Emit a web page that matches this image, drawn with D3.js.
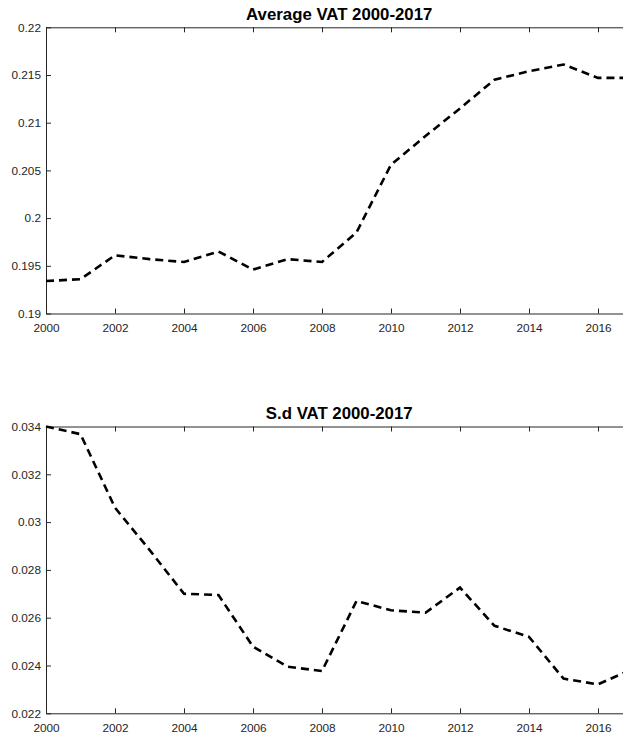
<!DOCTYPE html>
<html>
<head>
<style>
  body, html { margin: 0; padding: 0; background: #fff; }
  svg { display: block; }
</style>
</head>
<body>
<svg id="svg" width="623" height="734"></svg>
<script src="https://d3js.org/d3.v7.min.js"></script>
<script>
  const years = d3.range(2000, 2018)
  const avgVat = [0.1934, 0.1936, 0.1961, 0.1957, 0.1954, 0.1965, 0.1946, 0.1957, 0.1954,
    0.1985, 0.2056, 0.2086, 0.2115, 0.2145, 0.2154, 0.2161, 0.2147, 0.2147]
  const sdVat = [0.0340, 0.03368, 0.0306, 0.02884, 0.02700, 0.02695, 0.02479, 0.02395, 0.02377,
    0.02670, 0.02631, 0.02621, 0.02726, 0.02566, 0.02520, 0.02345, 0.02321, 0.02385]
  const xTicks = [2000, 2002, 2004, 2006, 2008, 2010, 2012, 2014, 2016]
  const avgTicks = [0.19, 0.195, 0.2, 0.205, 0.21, 0.215, 0.22]
  const sdTicks = [0.022, 0.024, 0.026, 0.028, 0.03, 0.032, 0.034]

  const svg = d3.select('#svg')
  const left = 46
  const right = 632.5
  const x = d3.scaleLinear().domain([2000, 2017]).range([left, right])
  const fmt = d => String(+d.toFixed(4))
  const font = 'Liberation Sans, Arial, Helvetica, sans-serif'

  function panel(top, bottom, title, values, yDomain, yTicks) {
    const y = d3.scaleLinear().domain(yDomain).range([bottom, top])
    const g = svg.append('g')

    g.append('text')
      .attr('x', (left + right) / 2)
      .attr('y', top - 7.5)
      .attr('text-anchor', 'middle')
      .attr('font-family', font)
      .attr('font-weight', 'bold')
      .attr('font-size', 16.8)
      .attr('fill', '#000')
      .text(title)

    // bottom axis
    const xb = g.append('g')
      .attr('transform', `translate(0,${bottom})`)
      .call(d3.axisBottom(x).tickValues(xTicks).tickFormat(d3.format('d')).tickSizeInner(-5).tickSizeOuter(0))
    // top axis
    const xt = g.append('g')
      .attr('transform', `translate(0,${top})`)
      .call(d3.axisTop(x).tickValues(xTicks).tickFormat('').tickSizeInner(-5).tickSizeOuter(0))
    // left axis
    const yl = g.append('g')
      .attr('transform', `translate(${left},0)`)
      .call(d3.axisLeft(y).tickValues(yTicks).tickFormat(fmt).tickSizeInner(-5).tickSizeOuter(0).tickPadding(5))

    ;[xb, xt, yl].forEach(a => {
      a.select('.domain').attr('stroke', '#262626').attr('stroke-width', 1)
      a.selectAll('.tick line').attr('stroke', '#262626').attr('stroke-width', 1)
      a.selectAll('.tick text')
        .attr('font-family', font)
        .attr('font-size', 11.8)
        .attr('fill', '#262626')
    })
    xb.selectAll('.tick text').attr('dy', '0.35em').attr('y', 14.5)

    const line = d3.line()
      .x((d, i) => x(years[i]))
      .y(d => y(d))

    g.append('path')
      .datum(values)
      .attr('d', line)
      .attr('fill', 'none')
      .attr('stroke', '#000')
      .attr('stroke-width', 2.6)
      .attr('stroke-dasharray', '8,5')
  }

  panel(27.3, 313.5, 'Average VAT 2000-2017', avgVat, [0.19, 0.22], avgTicks)
  panel(426.5, 713.3, 'S.d VAT 2000-2017', sdVat, [0.022, 0.034], sdTicks)
</script>
</body>
</html>
